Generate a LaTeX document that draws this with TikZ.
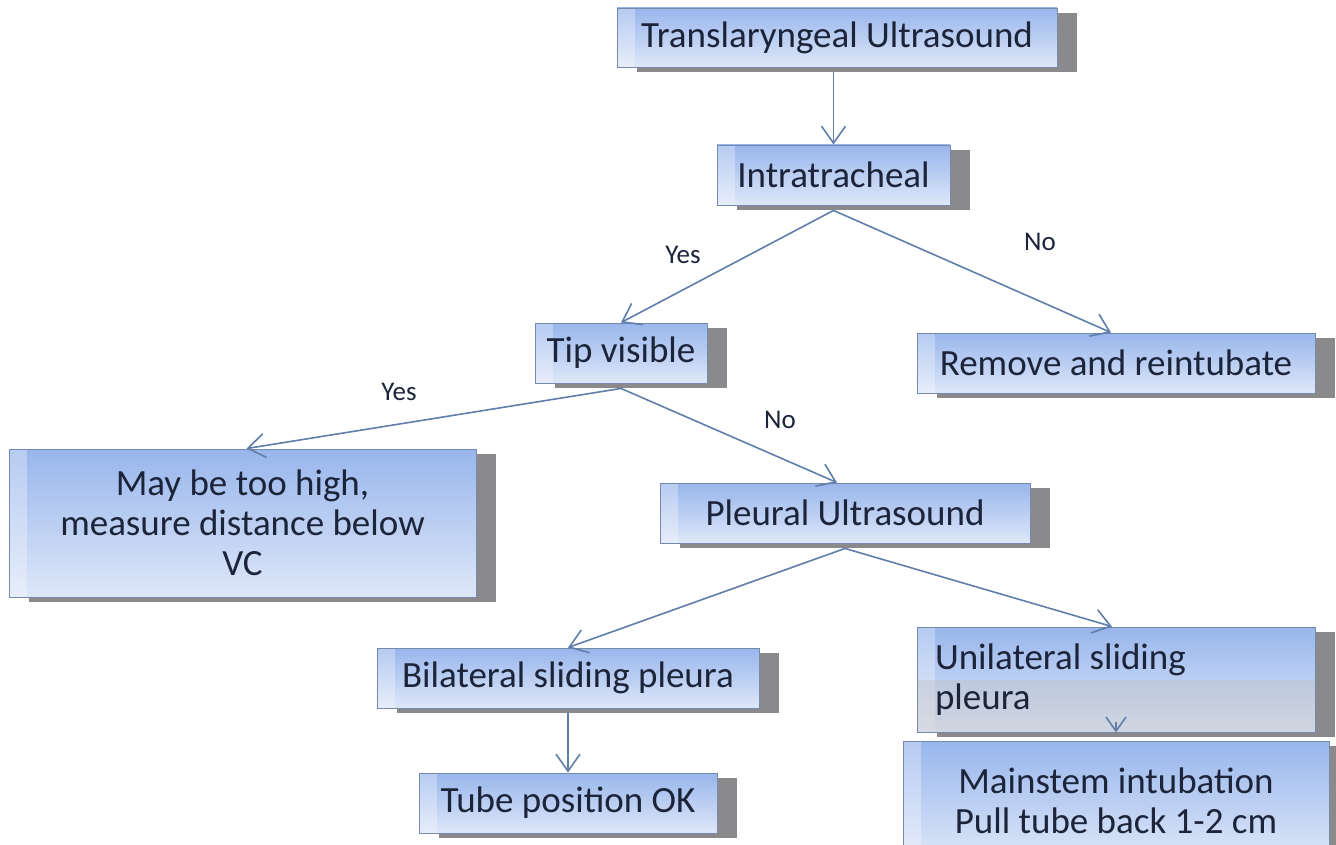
\documentclass[tikz,border=0pt]{standalone}
\usepackage{fontspec}
\setmainfont{Carlito}
\usetikzlibrary{arrows.meta,shadows}

\definecolor{boxtop}{RGB}{152,182,236}
\definecolor{boxbot}{RGB}{222,231,248}
\definecolor{boxline}{RGB}{118,138,172}
\definecolor{boxshade}{RGB}{138,138,140}
\definecolor{ink}{RGB}{28,36,58}
\definecolor{link}{RGB}{96,126,170}

\tikzset{
  stepbox/.style={draw=boxline, line width=0.9pt,
    top color=boxtop, bottom color=boxbot,
    drop shadow={shadow xshift=20pt, shadow yshift=-5pt, fill=boxshade, opacity=1},
    text=ink, font=\fontsize{37}{40}\selectfont, inner sep=0pt, align=center,
    path picture={\fill[white,opacity=0.3] (path picture bounding box.south west)
      rectangle ([xshift=18pt]path picture bounding box.north west);}},
  twotone/.style={path picture={
      \fill[white,opacity=0.3] (path picture bounding box.south west)
        rectangle ([xshift=18pt]path picture bounding box.north west);
      \fill[black!25,opacity=0.4] (path picture bounding box.south west)
        rectangle (path picture bounding box.east);}},
  arr/.style={draw=link, line width=1.6pt, -{Straight Barb[length=17pt,width=24pt]}},
  smallarr/.style={draw=link, line width=1.6pt, -{Straight Barb[length=14pt,width=20pt]}},
  tag/.style={text=ink, font=\fontsize{27}{30}\selectfont}
}

\begin{document}
\begin{tikzpicture}[x=1pt,y=-1pt]
  \clip (0,0) rectangle (1336,845);
  \fill[white] (0,0) rectangle (1336,845);

  % boxes
  \node[stepbox, minimum width=440pt, minimum height=59pt] (trans) at (837,37.5) {Translaryngeal Ultrasound};
  \node[stepbox, minimum width=233pt, minimum height=60pt] (intra) at (833.5,175) {Intratracheal};
  \node[stepbox, minimum width=172pt, minimum height=60pt] (tip) at (621,353) {Tip visible};
  \node[stepbox, minimum width=398pt, minimum height=60pt] (remove) at (1116,363) {Remove and reintubate};
  \node[stepbox, minimum width=467pt, minimum height=148pt] (may) at (242.5,523) {May be too high,\\measure distance below\\VC};
  \node[stepbox, minimum width=370pt, minimum height=60pt] (pleural) at (845,513) {Pleural Ultrasound};
  \node[stepbox, minimum width=382pt, minimum height=60pt] (bilat) at (568,678) {Bilateral sliding pleura};
  \node[stepbox, minimum width=298pt, minimum height=60pt] (tube) at (568,803) {Tube position OK};
  \node[stepbox, twotone, minimum width=398pt, minimum height=105pt, text width=362pt, align=flush left] (unilat) at (1116,679.5) {Unilateral sliding\\pleura};
  \node[stepbox, minimum width=426pt, minimum height=120pt] (mainstem) at (1116,801) {Mainstem intubation\\Pull tube back 1-2 cm};

  % connectors
  \coordinate (t0) at (trans.south -| intra.north);
  \draw[arr] ([yshift=-5pt]t0) -- (intra.north);
  \draw[arr] ([yshift=-5pt]intra.south) -- (tip.north);
  \draw[arr] ([yshift=-5pt]intra.south) -- ([xshift=-5pt]remove.north);
  \draw[arr] ([yshift=-5pt]tip.south) -- ([xshift=4pt]may.north);
  \draw[arr] ([yshift=-5pt]tip.south) -- ([xshift=-8pt]pleural.north);
  \draw[arr] ([yshift=-5pt]pleural.south) -- (bilat.north);
  \draw[arr] ([yshift=-5pt]pleural.south) -- ([xshift=-4pt]unilat.north);
  \draw[arr] ([yshift=-5pt]bilat.south) -- (tube.north);
  % the boxes touch here, so only the head of this arrow shows
  \coordinate (ulead) at ([yshift=10pt]unilat.south);
  \draw[smallarr] (ulead) -- (unilat.south);

  % branch labels
  \node[tag] (yes1) at (683,255) {Yes};
  \node[tag] (no1) at (1040,242) {No};
  \node[tag] (yes2) at (399,392) {Yes};
  \node[tag] (no2) at (780,420) {No};
\end{tikzpicture}
\end{document}
